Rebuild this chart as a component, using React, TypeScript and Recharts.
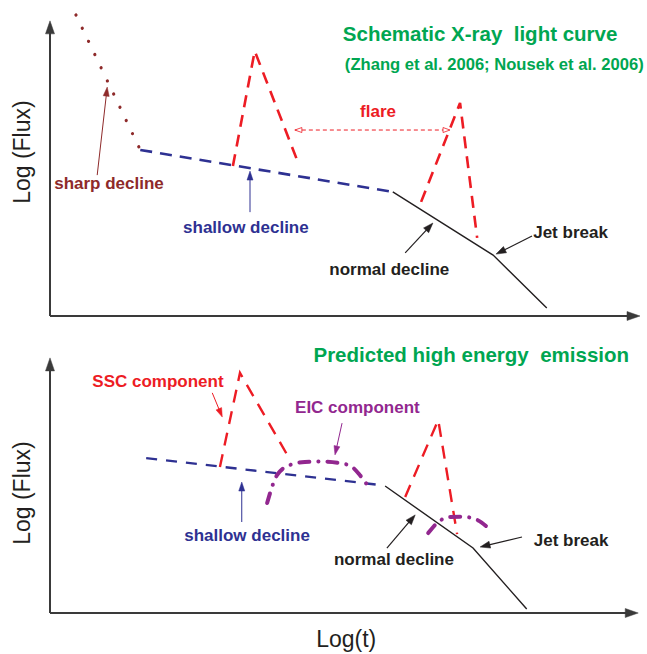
import React from 'react';
import { LineChart, Line, XAxis, YAxis, ReferenceLine, ReferenceDot } from 'recharts';

// ---------- data (log t, log flux in arbitrary units) ----------
const topSharp = [{ t: 0.44, f: 9.68 }, { t: 1.53, f: 5.34 }];
const topShallow = [{ t: 1.53, f: 5.34 }, { t: 5.81, f: 3.99 }];
const topNormal = [{ t: 5.81, f: 3.99 }, { t: 7.51, f: 1.96 }, { t: 8.42, f: 0.26 }];
const topFlare1 = [{ t: 3.1, f: 4.82 }, { t: 3.47, f: 8.52 }, { t: 4.22, f: 4.86 }];
const topFlare2 = [{ t: 6.29, f: 3.67 }, { t: 6.95, f: 6.85 }, { t: 7.24, f: 2.51 }];

const botShallow = [{ t: 1.63, f: 5.89 }, { t: 5.58, f: 4.87 }];
const botNormal = [{ t: 5.68, f: 4.83 }, { t: 7.17, f: 2.47 }, { t: 8.08, f: 0.15 }];
const botSSC1 = [{ t: 2.88, f: 5.55 }, { t: 3.22, f: 9.13 }, { t: 4.07, f: 5.82 }];
const botSSC2 = [{ t: 6.02, f: 4.41 }, { t: 6.58, f: 7.34 }, { t: 6.9, f: 3.0 }];
const botEIC1 = [
  { t: 3.68, f: 4.18 }, { t: 3.85, f: 5.25 }, { t: 4.07, f: 5.63 }, { t: 4.32, f: 5.74 },
  { t: 4.58, f: 5.76 }, { t: 4.92, f: 5.7 }, { t: 5.12, f: 5.55 }, { t: 5.25, f: 5.25 }, { t: 5.39, f: 4.83 },
];
const botEIC2 = [
  { t: 6.41, f: 3.04 }, { t: 6.58, f: 3.46 }, { t: 6.78, f: 3.65 }, { t: 7.0, f: 3.66 },
  { t: 7.24, f: 3.54 }, { t: 7.41, f: 3.27 },
];

const xDomain = [0, 10];
const yDomain = [0, 10];

// ---------- styles ----------
const FONT = '"Liberation Sans", Arial, Helvetica, sans-serif';
const GREEN = '#00a651';
const RED = '#ed1c24';
const BLUE = '#2e3192';
const BROWN = '#8e2a2a';
const PURPLE = '#92278f';
const BLACK = '#231f20';
const AXIS = '#3a3a3a';
const ANN = 17;

const textShape = (label: string, color: string, size: number, anchor = 'middle', weight = 'bold', rotate = false) =>
  (p: any) => (
    <text
      x={p.cx}
      y={p.cy}
      fill={color}
      fontSize={size}
      fontFamily={FONT}
      fontWeight={weight}
      textAnchor={anchor}
      dominantBaseline="central"
      style={{ whiteSpace: 'pre' }}
      transform={rotate ? `rotate(-90 ${p.cx} ${p.cy})` : undefined}
    >
      {label}
    </text>
  );

const head = (x: number, y: number, ang: number, len: number, hw: number, color: string, open = false) => {
  const bx = x - len * Math.cos(ang);
  const by = y - len * Math.sin(ang);
  const px = -Math.sin(ang) * hw;
  const py = Math.cos(ang) * hw;
  return (
    <polygon
      points={`${x},${y} ${bx + px},${by + py} ${bx - px},${by - py}`}
      fill={open ? '#fff' : color}
      stroke={color}
      strokeWidth={open ? 0.8 : 0.5}
    />
  );
};

const arrowShape = (color: string, width: number, len: number, hw: number, opts: any = {}) => (p: any) => {
  const { x1, y1, x2, y2 } = p;
  const ang = Math.atan2(y2 - y1, x2 - x1);
  return (
    <g>
      <line
        x1={x1}
        y1={y1}
        x2={x2 - (len * 0.8) * Math.cos(ang)}
        y2={y2 - (len * 0.8) * Math.sin(ang)}
        stroke={color}
        strokeWidth={width}
        strokeDasharray={opts.dash}
      />
      {head(x2, y2, ang, len, hw, color, opts.open)}
      {opts.both ? head(x1, y1, ang + Math.PI, len, hw, color, opts.open) : null}
    </g>
  );
};

const Txt = (t: number, f: number, label: string, color: string, size: number, anchor = 'middle', weight = 'bold', rotate = false) => (
  <ReferenceDot
    key={label + t}
    x={t}
    y={f}
    r={0}
    ifOverflow="visible"
    shape={textShape(label, color, size, anchor, weight, rotate)}
  />
);

const Arrow = (a: [number, number], b: [number, number], shape: any, key: string) => (
  <ReferenceLine
    key={key}
    segment={[{ x: a[0], y: a[1] }, { x: b[0], y: b[1] }]}
    ifOverflow="visible"
    shape={shape}
  />
);

const series = (data: any[], color: string, width: number, dash: string | undefined, type: any = 'linear', cap: any = 'butt') => (
  <Line
    data={data}
    dataKey="f"
    type={type}
    stroke={color}
    strokeWidth={width}
    strokeDasharray={dash}
    strokeLinecap={cap}
    dot={false}
    activeDot={false}
    isAnimationActive={false}
  />
);

const axes = () => [
  <XAxis key="x" type="number" dataKey="t" domain={xDomain} hide allowDataOverflow />,
  <YAxis key="y" type="number" dataKey="f" domain={yDomain} hide allowDataOverflow />,
];

export default function App() {
  return (
    <div style={{ position: 'absolute', left: 0, top: 0, width: 647, height: 654, background: '#fff', overflow: 'hidden' }}>
      <div style={{ position: 'absolute', left: 0, top: 0 }}>
        <LineChart width={647} height={330} margin={{ top: 5, right: 7, bottom: 14, left: 50 }}>
          {axes()}
          {Arrow([0, 0], [0, 9.49], arrowShape(AXIS, 2, 13, 4.5), 'ya')}
          {Arrow([0, 0], [10, 0], arrowShape(AXIS, 2, 13, 4.5), 'xa')}
          {series(topSharp, BROWN, 3.2, '0.1 14.5', 'linear', 'round')}
          {series(topShallow, BLUE, 2.6, '12 8')}
          {series(topNormal, BLACK, 1.4, undefined)}
          {series(topFlare1, RED, 2.6, '12 8')}
          {series(topFlare2, RED, 2.6, '12 8')}
          {Arrow([0.8, 4.53], [0.97, 7.36], arrowShape(BROWN, 1, 9, 3), 'a1')}
          {Arrow([3.39, 3.34], [3.39, 4.66], arrowShape(BLUE, 1, 9, 3), 'a2')}
          {Arrow([6.02, 2.03], [6.49, 2.99], arrowShape(BLACK, 1.2, 10, 3.5), 'a3')}
          {Arrow([8.17, 2.57], [7.56, 1.99], arrowShape(BLACK, 1.2, 10, 3.5), 'a4')}
          {Arrow([4.15, 5.98], [6.78, 5.98], arrowShape(RED, 1, 7, 2.5, { dash: '4 3', both: true, open: true }), 'a5')}
          {Txt(7.29, 9.08, 'Schematic X-ray  light curve', GREEN, 20.5)}
          {Txt(7.53, 8.1, '(Zhang et al. 2006; Nousek et al. 2006)', GREEN, 16.6)}
          {Txt(5.56, 6.56, 'flare', RED, 17)}
          {Txt(1.0, 4.26, 'sharp decline', BROWN, ANN)}
          {Txt(3.32, 2.86, 'shallow decline', BLUE, ANN)}
          {Txt(5.75, 1.5, 'normal decline', BLACK, ANN)}
          {Txt(8.19, 2.69, 'Jet break', BLACK, ANN, 'start')}
          {Txt(-0.47, 5.27, 'Log (Flux)', BLACK, 23, 'middle', 'normal', true)}
        </LineChart>
      </div>
      <div style={{ position: 'absolute', left: 0, top: 330 }}>
        <LineChart width={647} height={324} margin={{ top: 20, right: 7, bottom: 41, left: 50 }}>
          {axes()}
          {Arrow([0, 0], [0, 9.7], arrowShape(AXIS, 2, 13, 4.5), 'ya')}
          {Arrow([0, 0], [9.97, 0], arrowShape(AXIS, 2, 13, 4.5), 'xa')}
          {series(botShallow, BLUE, 2.3, '11 9')}
          {series(botNormal, BLACK, 1.4, undefined)}
          {series(botSSC1, RED, 2.4, '13 9')}
          {series(botSSC2, RED, 2.4, '13 9')}
          {series(botEIC1, PURPLE, 4, '10 9 0.1 9', 'monotone', 'round')}
          {series(botEIC2, PURPLE, 4, '10 9 0.1 9', 'monotone', 'round')}
          {Arrow([2.75, 8.37], [2.92, 7.45], arrowShape(RED, 1, 9, 3), 'b1')}
          {Arrow([4.95, 7.22], [4.83, 6.01], arrowShape(PURPLE, 1, 9, 3), 'b2')}
          {Arrow([3.25, 3.46], [3.25, 4.98], arrowShape(BLUE, 1, 9, 3), 'b3')}
          {Arrow([5.71, 2.47], [6.19, 3.73], arrowShape(BLACK, 1.2, 10, 3.5), 'b4')}
          {Arrow([8.0, 2.89], [7.29, 2.51], arrowShape(BLACK, 1.2, 10, 3.5), 'b5')}
          {Txt(7.14, 9.83, 'Predicted high energy  emission', GREEN, 20.5)}
          {Txt(1.83, 8.82, 'SSC component', RED, ANN)}
          {Txt(5.21, 7.81, 'EIC component', PURPLE, ANN)}
          {Txt(3.34, 2.93, 'shallow decline', BLUE, ANN)}
          {Txt(5.83, 2.04, 'normal decline', BLACK, ANN)}
          {Txt(8.2, 2.74, 'Jet break', BLACK, ANN, 'start')}
          {Txt(-0.47, 4.56, 'Log (Flux)', BLACK, 23, 'middle', 'normal', true)}
          {Txt(5.02, -0.99, 'Log(t)', BLACK, 23, 'middle', 'normal')}
        </LineChart>
      </div>
    </div>
  );
}
